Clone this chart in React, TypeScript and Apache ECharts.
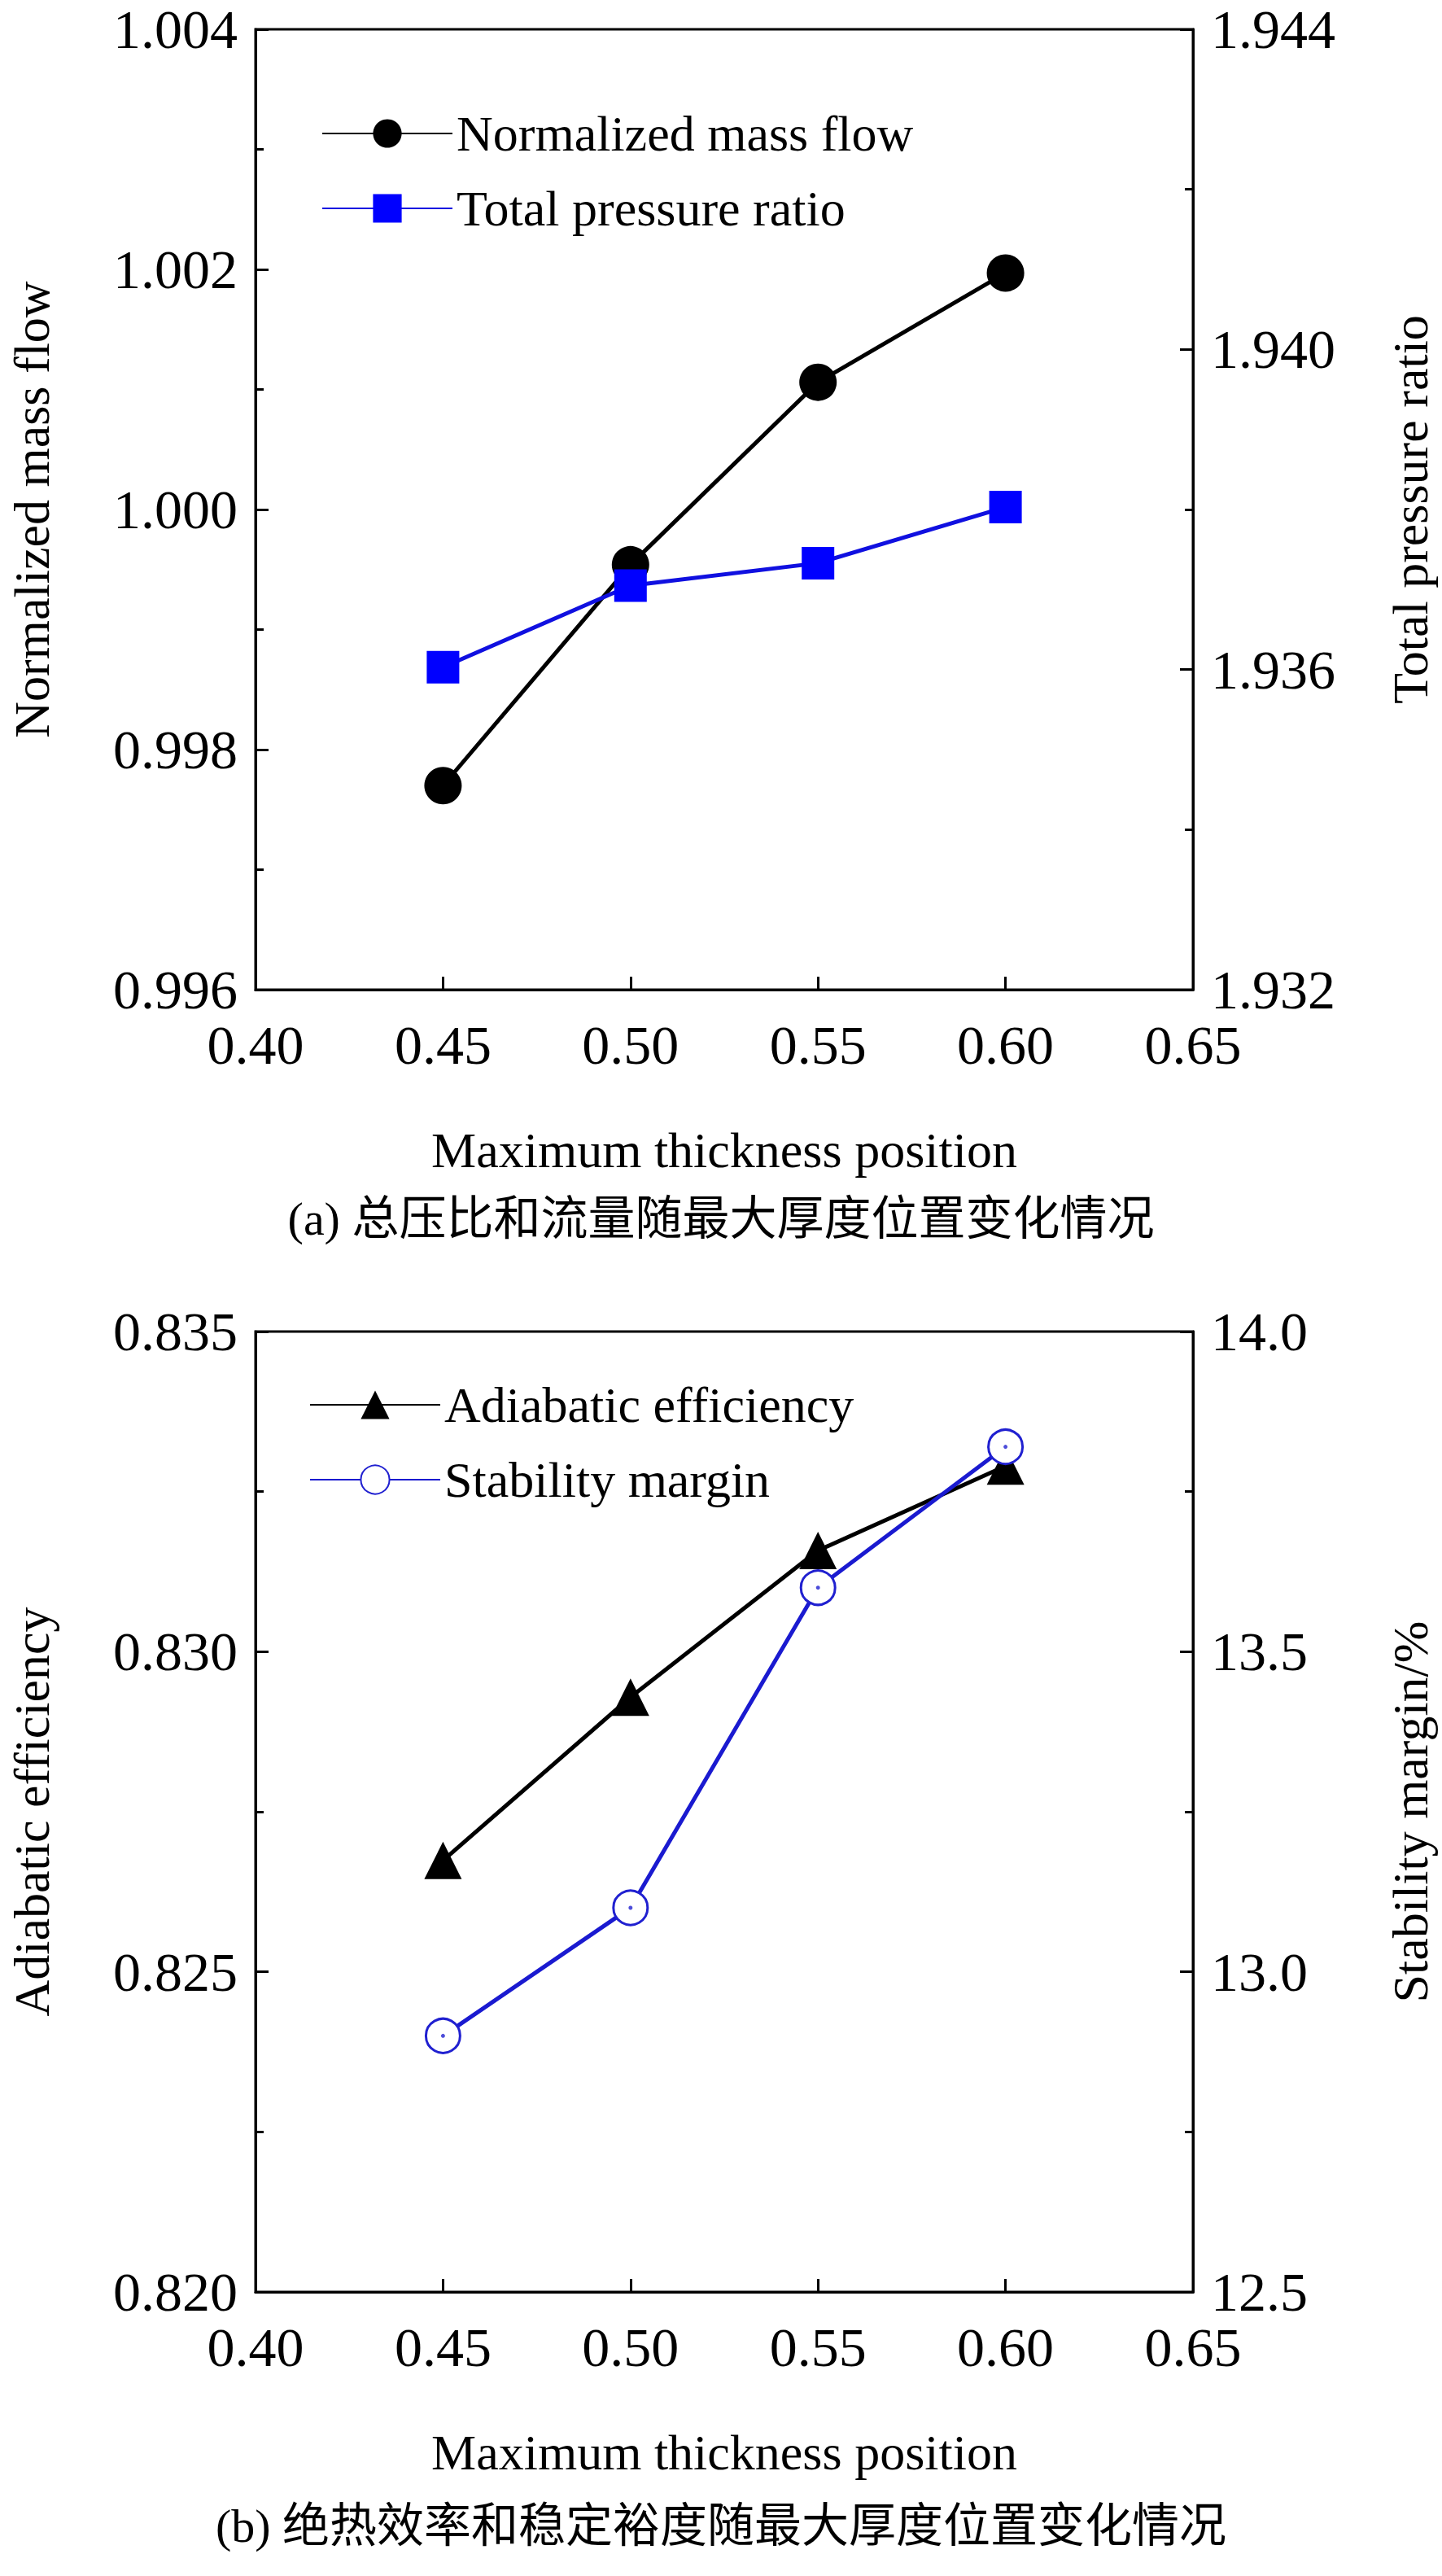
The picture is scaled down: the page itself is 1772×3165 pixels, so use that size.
import * as echarts from 'echarts';
import { useEffect, useRef } from 'react';

const positions = [0.45, 0.5, 0.55, 0.6];
const massFlow = [0.9977, 0.99954, 1.00106, 1.00197];
const pressureRatio = [1.93603, 1.93705, 1.93733, 1.93803];
const efficiency = [0.82674, 0.82929, 0.83158, 0.8329];
const stabilityMargin = [12.9, 13.1, 13.6, 13.82];

const FONT = '"Liberation Serif", "Noto Sans CJK SC", serif';
const CJK = '"Liberation Serif", "Noto Sans CJK SC", serif';

const pair = (ys: number[]) => positions.map((x, i) => [x, ys[i]]);

const App = () => {
  const chartDiv = useRef<HTMLDivElement>(null);

  useEffect(() => {
    document.body.style.margin = '0';
    const chart = echarts.init(chartDiv.current, undefined, { renderer: 'svg' });

    const axisCommon = {
      axisLine: { show: true, lineStyle: { color: '#000', width: 3 } },
      axisTick: { show: true, inside: true, length: 16, lineStyle: { color: '#000', width: 3 } },
      minorTick: { show: true, splitNumber: 2, length: 10, lineStyle: { color: '#000', width: 3 } },
      splitLine: { show: false },
      axisLabel: { color: '#000', fontSize: 68, fontFamily: FONT, margin: 22 },
      nameTextStyle: { color: '#000', fontSize: 62, fontFamily: FONT },
    };

    const xAxis = (gridIndex: number) => ({
      ...axisCommon,
      gridIndex,
      type: 'value',
      min: 0.4,
      max: 0.65,
      interval: 0.05,
      minorTick: { show: false },
      axisLabel: { ...axisCommon.axisLabel, margin: 34, formatter: (v: number) => v.toFixed(2) },
      name: 'Maximum thickness position',
      nameLocation: 'middle',
      nameGap: 166,
    });

    const yAxis = (gridIndex: number, pos: string, min: number, max: number, interval: number, dec: number, name: string) => ({
      ...axisCommon,
      gridIndex,
      type: 'value',
      position: pos,
      min,
      max,
      interval,
      axisLabel: { ...axisCommon.axisLabel, formatter: (v: number) => v.toFixed(dec) },
      name,
      nameLocation: 'middle',
      nameRotate: 90,
      nameGap: pos === 'left' ? 244 : 236,
    });

    const lineStyle = (c: string) => ({ color: c, width: 5 });
    const legendText = { fontSize: 62, fontFamily: FONT, color: '#000' };

    chart.setOption({
      animation: false,
      backgroundColor: '#fff',
      grid: [
        { left: 300, right: 302, top: 36, height: 1180, show: true, borderColor: '#000', borderWidth: 3 },
        { left: 300, right: 302, top: 1636, height: 1180, show: true, borderColor: '#000', borderWidth: 3 },
      ],
      xAxis: [xAxis(0), xAxis(1)],
      yAxis: [
        yAxis(0, 'left', 0.996, 1.004, 0.002, 3, 'Normalized mass flow'),
        yAxis(0, 'right', 1.932, 1.944, 0.004, 3, 'Total pressure ratio'),
        yAxis(1, 'left', 0.82, 0.835, 0.005, 3, 'Adiabatic efficiency'),
        yAxis(1, 'right', 12.5, 14, 0.5, 1, 'Stability margin/%'),
      ],
      legend: [
        {
          data: ['Normalized mass flow', 'Total pressure ratio'],
          orient: 'vertical', left: 390, top: 128, itemWidth: 160, itemHeight: 44, itemGap: 30,
          textStyle: legendText,
        },
        {
          data: ['Adiabatic efficiency', 'Stability margin'],
          orient: 'vertical', left: 375, top: 1690, itemWidth: 160, itemHeight: 44, itemGap: 30,
          textStyle: legendText,
        },
      ],
      series: [
        {
          name: 'Normalized mass flow', type: 'line', xAxisIndex: 0, yAxisIndex: 0,
          data: pair(massFlow), symbol: 'circle', symbolSize: 46,
          lineStyle: lineStyle('#000'), itemStyle: { color: '#000' },
        },
        {
          name: 'Total pressure ratio', type: 'line', xAxisIndex: 0, yAxisIndex: 1,
          data: pair(pressureRatio), symbol: 'rect', symbolSize: 40,
          lineStyle: lineStyle('#1010e0'), itemStyle: { color: '#0000ff' },
        },
        {
          name: 'Adiabatic efficiency', type: 'line', xAxisIndex: 1, yAxisIndex: 2,
          data: pair(efficiency), symbol: 'triangle', symbolSize: 46,
          lineStyle: lineStyle('#000'), itemStyle: { color: '#000' },
        },
        {
          name: 'Stability margin', type: 'line', xAxisIndex: 1, yAxisIndex: 3,
          data: pair(stabilityMargin), symbol: 'circle', symbolSize: 42,
          lineStyle: lineStyle('#1a1ad0'),
          itemStyle: { color: '#fff', borderColor: '#2020d0', borderWidth: 3 },
        },
        {
          type: 'scatter', xAxisIndex: 1, yAxisIndex: 3, silent: true,
          data: pair(stabilityMargin), symbol: 'circle', symbolSize: 5,
          itemStyle: { color: '#2020d0' }, z: 5,
        },
      ],
      graphic: [
        {
          type: 'text', left: 'center', top: 1468,
          style: { text: '(a) 总压比和流量随最大厚度位置变化情况', fontSize: 58, fontFamily: CJK, fill: '#000' },
        },
        {
          type: 'text', left: 'center', top: 3074,
          style: { text: '(b) 绝热效率和稳定裕度随最大厚度位置变化情况', fontSize: 58, fontFamily: CJK, fill: '#000' },
        },
      ],
    });

    return () => {
      chart.dispose();
    };
  }, []);

  return <div ref={chartDiv} style={{ width: '1772px', height: '3165px' }} />;
};

export default App;
